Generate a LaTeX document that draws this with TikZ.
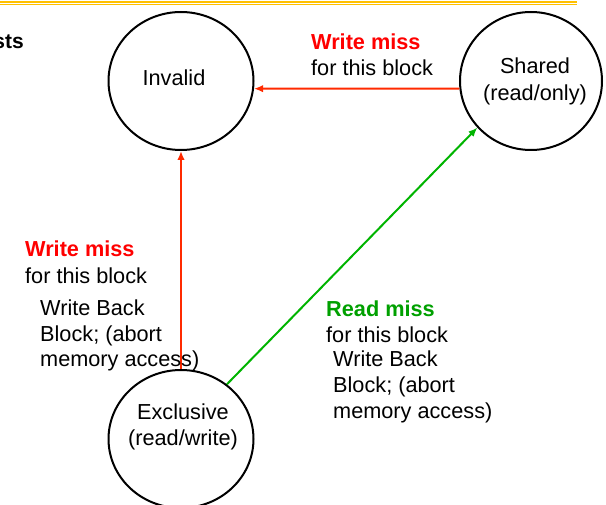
\documentclass[tikz,border=0pt]{standalone}
\usepackage{fontspec}
\setmainfont{Liberation Sans}
\usetikzlibrary{shapes.geometric,arrows.meta}
\definecolor{barY}{HTML}{FFC000}
\definecolor{arrR}{HTML}{FF2A00}
\definecolor{txtR}{HTML}{FF0000}
\definecolor{arrG}{HTML}{00B400}
\definecolor{txtG}{HTML}{00A000}
\tikzset{
  state/.style={ellipse,draw=black,line width=2pt,minimum width=145pt,minimum height=138pt,inner sep=0pt},
  lbl/.style={inner sep=0pt,font=\fontsize{21.7}{26}\selectfont},
  lw/.style={lbl,anchor=base west},
  lc/.style={lbl,anchor=base},
  hdR/.style={lw,text=txtR,font=\fontsize{21.7}{26}\selectfont\bfseries},
  hdG/.style={lw,text=txtG,font=\fontsize{21.7}{26}\selectfont\bfseries},
  tipA/.style={-{Latex[length=9pt,width=7.5pt]},line width=2pt},
}
\begin{document}
\begin{tikzpicture}[x=1pt,y=-1pt]
\useasboundingbox (0,0) rectangle (606,505);
% top bar
\draw[barY,line width=2pt] (0,2) -- (577,2);
\draw[barY,line width=1pt] (0,4.8) -- (577,4.8);
\node[lbl,anchor=base east,font=\fontsize{21}{26}\selectfont\bfseries] (ttl) at (24,49) {sts};
% states
\node[state] (inv) at (181,81) {};
\node[state,minimum width=142pt] (sh) at (531,81) {};
\node[state] (ex) at (181,439) {};
\node[lc] (invT) at (174,86) {Invalid};
\node[lc] (shT1) at (535,74) {Shared};
\node[lc] (shT2) at (535,101) {(read/only)};
\node[lc] (exT1) at (183,420) {Exclusive};
\node[lc] (exT2) at (183,446) {(read/write)};
% connectors
\draw[tipA,arrR] (sh.186) -- (inv.-6);
\draw[tipA,arrR] (ex.north) -- (inv.south);
\draw[tipA,arrG] (ex.50) -- (sh.221);
% labels
\node[hdR] (wm1) at (311,50) {Write miss};
\node[lw] (fb1) at (311,76) {for this block};
\node[hdR] (wm2) at (25,257) {Write miss};
\node[lw] (fb2) at (25,284) {for this block};
\node[lw] (wbA1) at (40,316) {Write Back};
\node[lw] (wbA2) at (40,342) {Block; (abort};
\node[lw] (wbA3) at (40,367) {memory access)};
\node[hdG] (rm) at (326,317) {Read miss};
\node[lw] (fb3) at (326,343) {for this block};
\node[lw] (wbB1) at (333,367) {Write Back};
\node[lw] (wbB2) at (333,393) {Block; (abort};
\node[lw] (wbB3) at (333,419) {memory access)};
\end{tikzpicture}
\end{document}
